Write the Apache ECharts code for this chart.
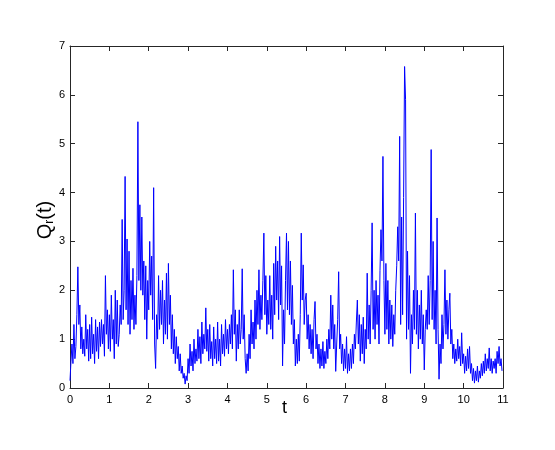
<!DOCTYPE html>
<html>
<head>
<meta charset="utf-8">
<script src="https://cdn.jsdelivr.net/npm/echarts@6/dist/echarts.min.js"></script>
<style>
html,body{margin:0;padding:0;background:#fff;}
#chart{width:555px;height:450px;}
</style>
</head>
<body>
<div id="chart"></div>
<script>
// time step between samples
var step = 0.025;
// Q_r(t) values, 40 samples per unit of t
var q0 = [0.15,0.55,0.9,0.5,1.3,0.6,0.85,1.5,2.48,1.3,1.7,0.8,1.25,0.7,1.0,0.65,1.5,0.8,1.2,0.55,1.3,0.6,1.45,0.7,1.1,0.5,1.4,0.75,1.25,0.6,1.35,0.85,1.4,0.9,1.3,0.65,2.3,1.1,1.6,0.8];
var q1 = [1.5,0.75,1.9,1.0,1.4,0.6,2.0,0.9,1.8,0.85,1.1,1.7,1.3,3.45,1.4,2.0,4.33,1.6,3.05,1.3,2.8,1.1,2.2,1.4,2.45,1.2,1.9,1.3,2.3,5.45,2.2,3.75,2.0,3.5,1.9,2.6,1.4,2.5,1.0,2.2];
var q2 = [1.6,3.0,1.9,2.7,1.4,4.1,0.9,0.4,1.5,1.0,2.3,1.2,2.0,1.3,2.2,0.9,1.8,1.1,2.35,1.0,2.55,1.3,1.9,0.8,1.5,0.7,1.2,0.5,1.05,0.6,0.85,0.35,0.7,0.3,0.45,0.2,0.3,0.08,0.25,0.15];
var q3 = [0.6,0.3,0.9,0.45,0.75,0.35,1.0,0.5,0.8,0.55,1.2,0.6,1.05,0.5,1.35,0.7,1.1,0.8,1.64,0.75,1.2,0.55,1.3,0.6,0.95,0.45,1.25,0.6,1.0,0.5,1.35,0.55,1.0,0.45,1.3,0.7,1.1,0.65,1.4,0.8];
var q4 = [1.2,0.7,1.3,0.9,1.5,0.8,2.42,1.1,1.6,0.55,1.3,0.8,1.6,0.9,1.2,2.44,1.0,1.5,0.6,0.3,0.7,0.35,1.1,0.6,1.6,0.9,1.35,0.8,1.8,1.0,2.0,1.3,2.42,1.2,1.9,1.4,2.2,3.17,1.5,2.3];
var q5 = [1.1,1.8,1.3,2.3,1.2,1.9,1.0,2.55,1.5,2.9,1.8,2.6,1.4,3.1,1.7,2.5,0.45,1.6,0.9,2.2,3.17,1.6,3.0,1.5,2.6,1.3,2.1,0.9,1.4,0.45,1.0,0.5,1.1,0.55,1.5,3.17,1.8,2.52,1.3,1.8];
var q6 = [1.94,1.0,1.5,0.8,1.3,0.7,1.2,0.6,1.4,1.77,0.8,1.1,0.5,0.9,0.4,0.8,0.45,0.95,0.4,0.75,0.5,1.0,0.6,1.2,0.8,1.9,1.0,1.7,0.8,1.3,0.34,0.9,1.4,2.38,0.8,1.1,0.5,0.9,0.35,0.8];
var q7 = [0.4,1.05,0.3,0.7,0.35,0.8,0.4,0.9,0.5,1.1,0.8,1.35,1.8,0.9,1.5,0.55,1.3,0.7,1.45,0.5,1.2,0.8,2.35,1.0,1.7,0.9,2.0,3.38,1.2,2.0,1.0,2.2,1.3,1.9,0.9,2.4,3.24,2.6,4.74,2.2];
var q8 = [1.1,2.55,1.2,2.2,0.9,1.8,1.0,1.7,0.85,1.5,1.1,2.0,2.5,3.3,2.6,5.15,1.3,3.5,1.5,3.9,6.58,5.9,1.0,2.8,1.2,2.3,0.3,1.5,0.9,2.0,1.2,3.58,1.1,2.0,0.8,1.7,1.0,2.0,0.9,1.5];
var q9 = [0.37,1.2,1.6,1.2,2.3,1.3,2.2,4.88,1.4,3.0,1.2,2.0,0.9,3.48,1.2,0.18,0.9,0.5,1.5,0.8,1.3,2.42,1.1,1.8,1.0,1.6,1.94,0.9,1.2,0.6,0.9,0.5,0.8,0.55,1.0,0.6,0.85,0.45,1.13,0.5];
var q10 = [0.7,0.3,0.65,0.35,0.8,0.4,0.85,0.3,0.5,0.15,0.4,0.1,0.35,0.15,0.45,0.12,0.35,0.2,0.5,0.25,0.55,0.3,0.7,0.35,0.6,0.4,0.82,0.35,0.6,0.3,0.55,0.4,0.6,0.3,0.75,0.5,0.85,0.45,0.6,0.35];
// axis ticks
var xTicks = [0,1,2,3,4,5,6,7,8,9,10,11];
var yTicks = [0,1,2,3,4,5,6,7];

var values = [].concat(q0,q1,q2,q3,q4,q5,q6,q7,q8,q9,q10);
var data = values.map(function(v,i){ return [+(i*step).toFixed(4), v]; });

var font = '"Liberation Sans", Arial, Helvetica, sans-serif';
var axisCol = '#262626';
function xAx(pos, show){
  return {type:'value', position:pos, min:xTicks[0], max:xTicks[xTicks.length-1], interval:1,
    axisLine:{show:true, onZero:false, lineStyle:{color:axisCol, width:1}},
    axisTick:{show:true, inside:true, length:5, lineStyle:{color:axisCol}},
    axisLabel:{show:show, margin:6, color:'#000', fontSize:11, fontFamily:font},
    splitLine:{show:false}};
}
function yAx(pos, show){
  return {type:'value', position:pos, min:yTicks[0], max:yTicks[yTicks.length-1], interval:1,
    axisLine:{show:true, onZero:false, lineStyle:{color:axisCol, width:1}},
    axisTick:{show:true, inside:true, length:5, lineStyle:{color:axisCol}},
    axisLabel:{show:show, margin:5, color:'#000', fontSize:11, fontFamily:font},
    splitLine:{show:false}};
}
var chart = echarts.init(document.getElementById('chart'), null, {renderer:'canvas'});
chart.setOption({
  backgroundColor:'#fff',
  animation:false,
  grid:{left:70, right:52, top:46, bottom:62, containLabel:false},
  xAxis:[xAx('bottom', true), xAx('top', false)],
  yAxis:[yAx('left', true), yAx('right', false)],
  series:[{type:'line', xAxisIndex:0, yAxisIndex:0, data:data, showSymbol:false, symbol:'none',
    lineStyle:{color:'#0000ff', width:1}, itemStyle:{color:'#0000ff'}}],
  graphic:[
    {type:'text', left:282, top:399, style:{text:'t', fontSize:18, fontFamily:font, fill:'#000'}},
    {type:'text', x:45, y:220, rotation:Math.PI/2,
      style:{text:'{a|Q}{b|r}{a|(t)}', fill:'#000', align:'center', verticalAlign:'middle',
        rich:{a:{fontSize:20, fontFamily:font, lineHeight:22, verticalAlign:'middle'},
              b:{fontSize:12, fontFamily:font, lineHeight:8, verticalAlign:'bottom'}}}}
  ]
});
</script>
</body>
</html>
